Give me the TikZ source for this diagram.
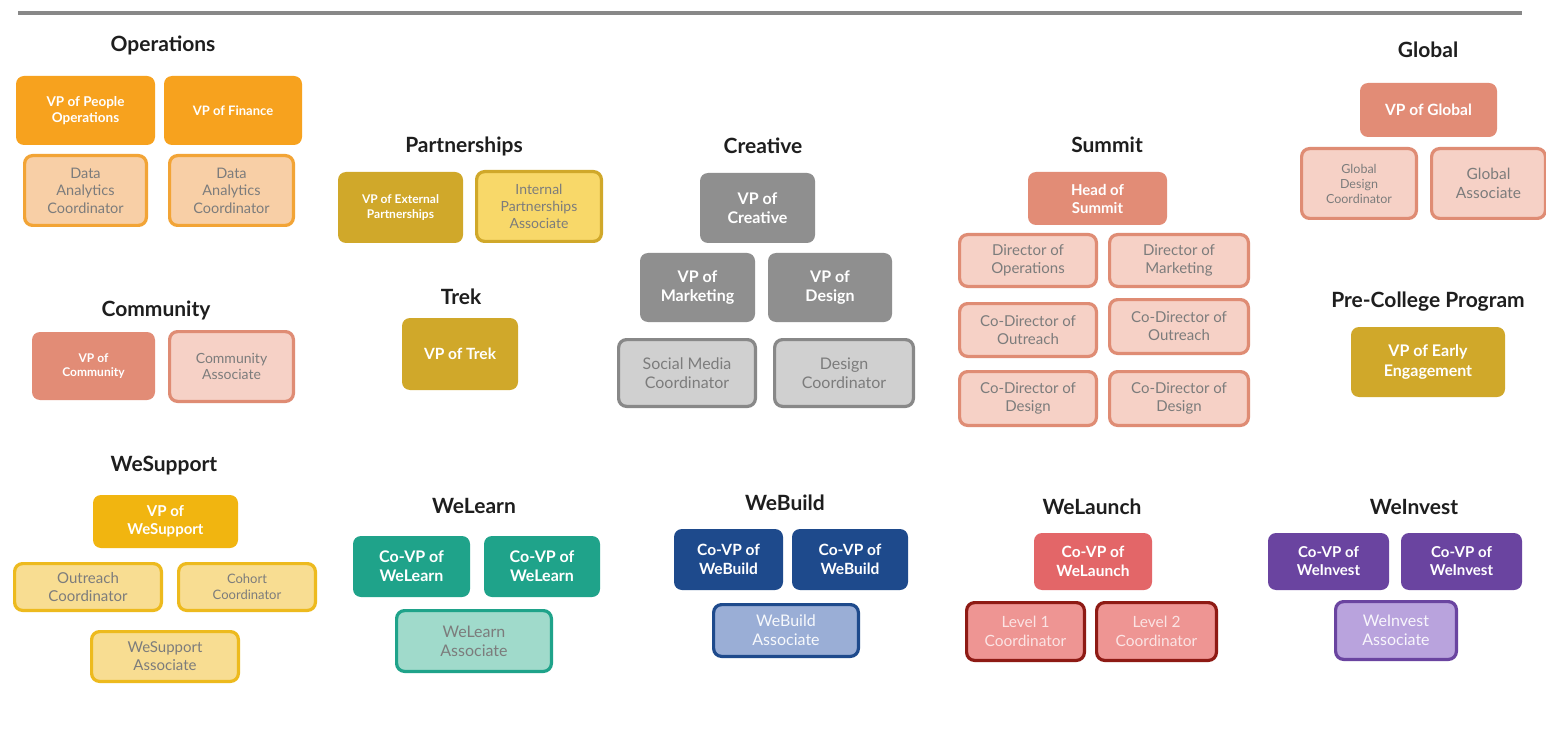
\documentclass[tikz,border=0pt]{standalone}
\usepackage{fontspec}
\setmainfont{Lato}
\newcommand\fsz[1]{\fontsize{#1}{1.2\dimexpr#1pt\relax}\selectfont}
\definecolor{txtgray}{HTML}{7C7C7C}
\definecolor{ttl}{HTML}{1E1E1E}
\definecolor{orng}{HTML}{F7A21E}
\definecolor{peach}{HTML}{F8CFA6}
\definecolor{peachb}{HTML}{F2A436}
\definecolor{salm}{HTML}{E28C76}
\definecolor{pinkl}{HTML}{F6D1C6}
\definecolor{pinkb}{HTML}{DF8C74}
\definecolor{gold}{HTML}{F1B510}
\definecolor{goldl}{HTML}{F8DD92}
\definecolor{goldb}{HTML}{EDBA1E}
\definecolor{must}{HTML}{D0A82A}
\definecolor{mustl}{HTML}{F8D869}
\definecolor{gry}{HTML}{8F8F8F}
\definecolor{gryl}{HTML}{D0D0D0}
\definecolor{gryb}{HTML}{888888}
\definecolor{teal}{HTML}{1FA38A}
\definecolor{teall}{HTML}{A0DACB}
\definecolor{navy}{HTML}{1E4A8C}
\definecolor{navyl}{HTML}{9AAED6}
\definecolor{coral}{HTML}{E36668}
\definecolor{corall}{HTML}{EE9593}
\definecolor{maroon}{HTML}{8E1A14}
\definecolor{purp}{HTML}{6A44A0}
\definecolor{purpl}{HTML}{B9A3DD}
\tikzset{
  base/.style={rounded corners=8pt, align=center, inner sep=1pt},
  sbox/.style n args={3}{base, fill=#1, draw=none, text=white,
     minimum width=#2pt, minimum height=#3pt,
     font=\bfseries\fsz{15.5}},
  lbox/.style n args={4}{base, fill=#1, draw=#2, line width=3.2pt, text=txtgray,
     minimum width={#3pt-3.2pt}, minimum height={#4pt-3.2pt},
     font=\fsz{15}},
  ttlnode/.style={text=ttl, font=\bfseries\fsz{21}},
  topline/.style={draw=gryb, line width=4pt},
}
\begin{document}
\begin{tikzpicture}[x=1pt,y=-1pt]
\fill[white] (0,0) rectangle (1546,735);
\useasboundingbox (0,0) rectangle (1546,735);
\coordinate (tl) at (18,13);
\coordinate (tr) at (1522,13);
\draw[topline] (tl) -- (tr);

% Operations
\node[ttlnode] (tOps) at (163,45) {Operations};
\node[sbox={orng}{139}{69}, font=\bfseries\fsz{13.5}] (opA) at (85.5,110.5) {VP of People\\Operations};
\node[sbox={orng}{138}{69}, font=\bfseries\fsz{13}] (opB) at (233,110.5) {VP of Finance};
\node[lbox={peach}{peachb}{125}{73}, font=\fsz{14.5}] (opC) at (85.5,190.5) {Data\\Analytics\\Coordinator};
\node[lbox={peach}{peachb}{127}{73}, font=\fsz{14.5}] (opD) at (231.5,190.5) {Data\\Analytics\\Coordinator};

% Community
\node[ttlnode] (tCom) at (156,310) {Community};
\node[sbox={salm}{123}{68}, font=\bfseries\fsz{12}] (coA) at (93.5,366) {VP of\\Community};
\node[lbox={pinkl}{pinkb}{127}{73}, font=\fsz{14}] (coB) at (231.5,366.5) {Community\\Associate};

% WeSupport
\node[ttlnode] (tWS) at (164,466) {WeSupport};
\node[sbox={gold}{145}{53}, font=\bfseries\fsz{15}] (wsA) at (165.5,521.5) {VP of\\WeSupport};
\node[lbox={goldl}{goldb}{150}{50}] (wsB) at (88,587) {Outreach\\Coordinator};
\node[lbox={goldl}{goldb}{140}{50}, font=\fsz{13}] (wsC) at (247,587) {Cohort\\Coordinator};
\node[lbox={goldl}{goldb}{150}{53}] (wsD) at (165,656.5) {WeSupport\\Associate};

% Partnerships
\node[ttlnode] (tPar) at (464,146) {Partnerships};
\node[sbox={must}{125}{71}, font=\bfseries\fsz{12}] (paA) at (400.5,207.5) {VP of External\\Partnerships};
\node[lbox={mustl}{must}{128}{73}, font=\fsz{14}] (paB) at (539,206.5) {Internal\\Partnerships\\Associate};

% Trek
\node[ttlnode] (tTrek) at (461,297) {Trek};
\node[sbox={must}{116}{72}] (trA) at (460,354) {VP of Trek};

% Creative
\node[ttlnode] (tCre) at (763,146) {Creative};
\node[sbox={gry}{115}{70}, font=\bfseries\fsz{16}] (crA) at (757.5,208) {VP of\\Creative};
\node[sbox={gry}{115}{69}, font=\bfseries\fsz{16}] (crB) at (697.5,287.5) {VP of\\Marketing};
\node[sbox={gry}{124}{69}, font=\bfseries\fsz{16}] (crC) at (830,287.5) {VP of\\Design};
\node[lbox={gryl}{gryb}{140}{70}, font=\fsz{16}] (crD) at (687,373) {Social Media\\Coordinator};
\node[lbox={gryl}{gryb}{142}{70}, font=\fsz{16}] (crE) at (844,373) {Design\\Coordinator};

% Summit
\node[ttlnode] (tSum) at (1107,145) {Summit};
\node[sbox={salm}{139}{53}, font=\bfseries\fsz{15}] (suA) at (1097.5,198.5) {Head of\\Summit};
\node[lbox={pinkl}{pinkb}{140}{55}] (suB) at (1028,260.5) {Director of\\Operations};
\node[lbox={pinkl}{pinkb}{142}{55}] (suC) at (1179,260.5) {Director of\\Marketing};
\node[lbox={pinkl}{pinkb}{140}{56}] (suD) at (1028,330) {Co-Director of\\Outreach};
\node[lbox={pinkl}{pinkb}{142}{57}] (suE) at (1179,326.5) {Co-Director of\\Outreach};
\node[lbox={pinkl}{pinkb}{140}{57}] (suF) at (1028,398.5) {Co-Director of\\Design};
\node[lbox={pinkl}{pinkb}{142}{57}] (suG) at (1179,398.5) {Co-Director of\\Design};

% Global
\node[ttlnode] (tGlo) at (1428,50) {Global};
\node[sbox={salm}{137}{54}] (glA) at (1428.5,110) {VP of Global};
\node[lbox={pinkl}{pinkb}{118}{73}, font=\fsz{12.5}] (glB) at (1359,183.5) {Global\\Design\\Coordinator};
\node[lbox={pinkl}{pinkb}{117}{73}, font=\fsz{15.5}] (glC) at (1488.5,183.5) {Global\\Associate};

% Pre-College Program
\node[ttlnode] (tPre) at (1428,302) {Pre-College Program};
\node[sbox={must}{154}{70}, font=\bfseries\fsz{16}] (peA) at (1428,362) {VP of Early\\Engagement};

% WeLearn
\node[ttlnode] (tWL) at (474,506) {WeLearn};
\node[sbox={teal}{117}{61}, font=\bfseries\fsz{16}] (wlA) at (411.5,566.5) {Co-VP of\\WeLearn};
\node[sbox={teal}{116}{61}, font=\bfseries\fsz{16}] (wlB) at (542,566.5) {Co-VP of\\WeLearn};
\node[lbox={teall}{teal}{158}{64}, font=\fsz{16}] (wlC) at (474,641) {WeLearn\\Associate};

% WeBuild
\node[ttlnode] (tWB) at (785,503) {WeBuild};
\node[sbox={navy}{109}{61}] (wbA) at (728.5,559.5) {Co-VP of\\WeBuild};
\node[sbox={navy}{116}{61}] (wbB) at (850,559.5) {Co-VP of\\WeBuild};
\node[lbox={navyl}{navy}{148}{55}, text=white!92!navyl, font=\fsz{16}] (wbC) at (786,630.5) {WeBuild\\Associate};

% WeLaunch
\node[ttlnode] (tWN) at (1092,507) {WeLaunch};
\node[sbox={coral}{118}{57}] (wnA) at (1093,561.5) {Co-VP of\\WeLaunch};
\node[lbox={corall}{maroon}{121}{61}, text=white!75!corall, font=\fsz{15.5}] (wnB) at (1025.5,631.5) {Level 1\\Coordinator};
\node[lbox={corall}{maroon}{123}{61}, text=white!75!corall, font=\fsz{15.5}] (wnC) at (1156.5,631.5) {Level 2\\Coordinator};

% WeInvest
\node[ttlnode] (tWI) at (1414,507) {WeInvest};
\node[sbox={purp}{121}{57}, font=\bfseries\fsz{15}] (wiA) at (1328.5,561.5) {Co-VP of\\WeInvest};
\node[sbox={purp}{121}{57}, font=\bfseries\fsz{15}] (wiB) at (1461.5,561.5) {Co-VP of\\WeInvest};
\node[lbox={purpl}{purp}{124}{61}, text=white!90!purpl, font=\fsz{16}] (wiC) at (1396,630.5) {WeInvest\\Associate};
\end{tikzpicture}
\end{document}
